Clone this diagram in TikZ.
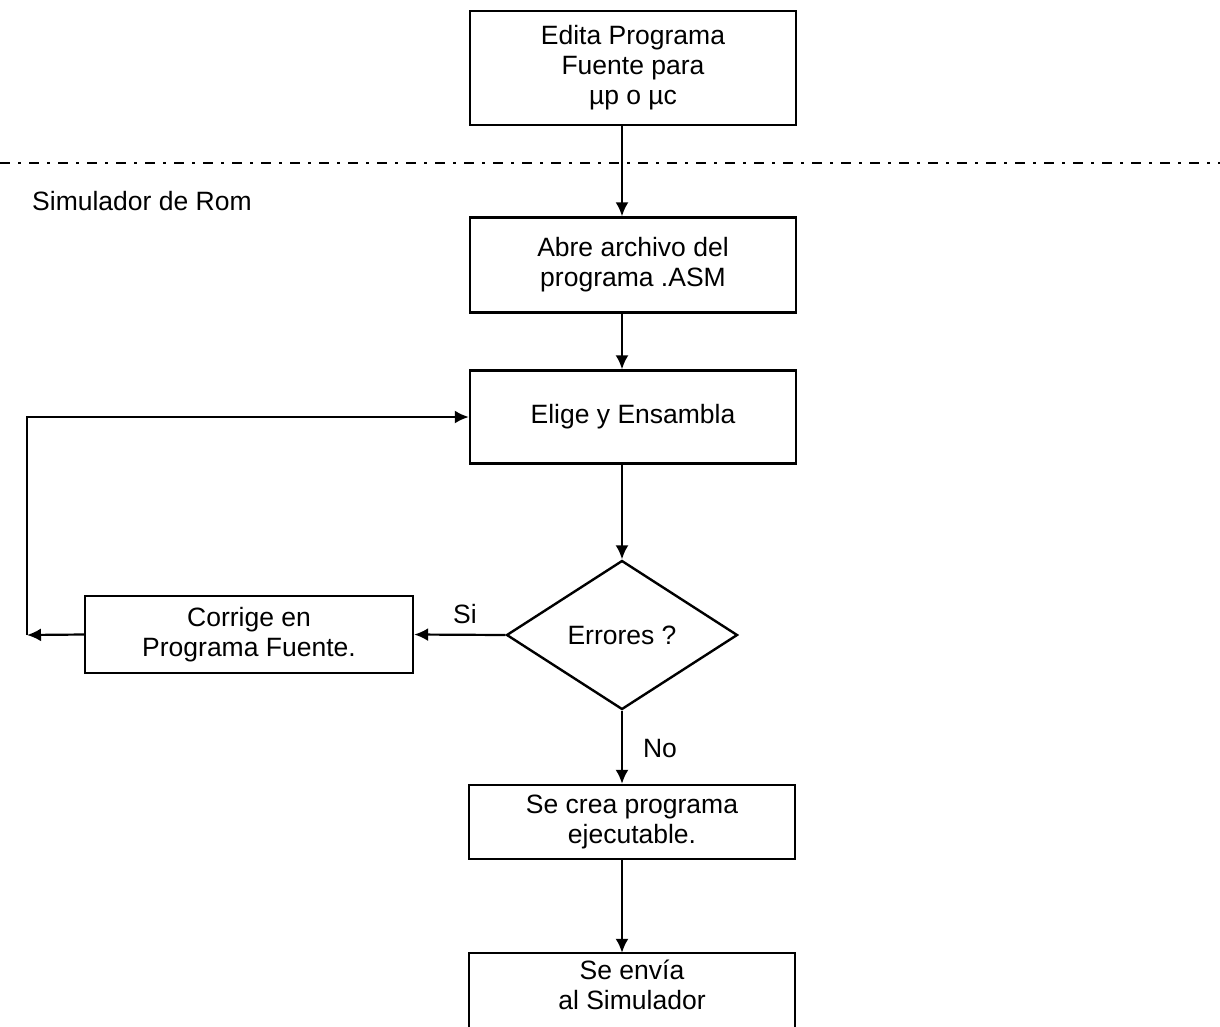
\documentclass[tikz,border=0pt]{standalone}
\usepackage{fontspec}
\setmainfont{Liberation Sans}
\usetikzlibrary{shapes.geometric,arrows.meta}
\begin{document}
\begin{tikzpicture}[x=1pt,y=-1pt,
  every node/.style={font=\fontsize{26.5}{30}\selectfont, align=center},
  box/.style={draw, line width=2.4pt, minimum width=326pt, inner sep=0pt},
  dec/.style={draw, diamond, line width=2.4pt, aspect=1.55, minimum width=231pt, minimum height=149pt, inner sep=0pt},
  conn/.style={line width=2.2pt, -{Latex[length=14pt,width=13pt]}},
  plain/.style={line width=2.4pt},
  lbl/.style={inner sep=0pt}]
\useasboundingbox (0,0) rectangle (1220,1026);
\clip (0,0) rectangle (1220,1026);
\coordinate (col) at (622,0);
\coordinate (lft) at (27,0);
\node[box, minimum height=114pt] (b1) at (633,68) {Edita Programa\\Fuente para\\µp o µc};
\draw[line width=2.4pt, dash pattern=on 10pt off 8pt on 3pt off 8pt] (0,163) -- (1220,163);
\node[lbl, anchor=west] (sim) at (32,201) {Simulador de Rom};
\node[box, minimum height=95pt] (b2) at (633,265) {Abre archivo del\\programa .ASM};
\node[box, minimum height=93pt] (b3) at (633,417) {\raisebox{-4pt}{Elige y Ensambla}};
\node[dec] (d) at (622,635) {Errores ?};
\node[box, minimum width=328pt, minimum height=77pt] (b4) at (249,634.5) {Corrige en\\Programa Fuente.};
\node[box, minimum height=74pt] (b5) at (632,822) {Se crea programa\\ejecutable.};
\node[minimum width=326pt, minimum height=64pt, inner sep=0pt] (b6) at (632,985) {Se envía\\al Simulador};
\draw[plain] (b6.south west |- 0,1040) -- (b6.north west) -- (b6.north east) -- (b6.south east |- 0,1040);
\node[lbl] (si) at (465,614) {Si};
\node[lbl] (no) at (660,748) {No};
\coordinate (lp) at (27,635);
\draw[conn] (b1.south -| col) -- (b2.north -| col);
\draw[conn] (b2.south -| col) -- (b3.north -| col);
\draw[conn] (b3.south -| col) -- (d.north);
\draw[conn] (d.west) -- (b4.east);
\draw[conn] (b4.west) -- (lp);
\draw[conn] (lp) -- (lft |- b3.west) -- (b3.west);
\draw[conn] (d.south) -- (b5.north -| col);
\draw[conn] (b5.south -| col) -- (b6.north -| col);
\end{tikzpicture}
\end{document}
